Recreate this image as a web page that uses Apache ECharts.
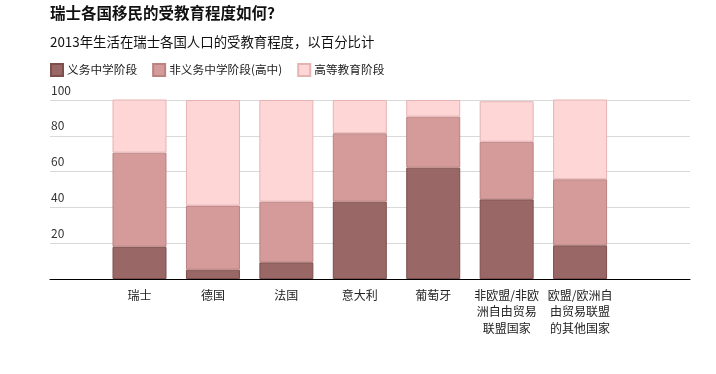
<!DOCTYPE html>
<html><head><meta charset="utf-8">
<script src="https://cdn.jsdelivr.net/npm/echarts@6/dist/echarts.min.js"></script>
<style>html,body{margin:0;padding:0;background:#fff}#c{width:716px;height:374px}</style>
</head><body><div id="c"></div>
<script>
const categories = ['瑞士', '德国', '法国', '意大利', '葡萄牙', '非欧盟/非欧\n洲自由贸易\n联盟国家', '欧盟/欧洲自\n由贸易联盟\n的其他国家'];
const compulsory = [18.0, 5.2, 9.3, 43.2, 62.2, 44.5, 18.8];
const upperSecondary = [52.6, 35.8, 33.9, 38.2, 28.5, 32.2, 36.9];
const tertiary = [29.8, 59.0, 56.8, 18.6, 9.3, 22.6, 44.7];
const seriesNames = ['义务中学阶段', '非义务中学阶段(高中)', '高等教育阶段'];
const yTicks = [0, 20, 40, 60, 80, 100];

const FONT = '"Noto Sans CJK SC", "Noto Sans", sans-serif';
const fills = ['#996866', '#d49b9a', '#fed6d6'];
const borders = ['#7c4e4c', '#b98382', '#e6b3b3'];
const values = [compulsory, upperSecondary, tertiary];

const chart = echarts.init(document.getElementById('c'), null, {renderer: 'canvas'});
chart.setOption({
  animation: false,
  textStyle: {fontFamily: FONT},
  title: [
    {text: '瑞士各国移民的受教育程度如何?', left: 50, top: 5, padding: 0,
     textStyle: {fontSize: 15.5, fontWeight: 'bold', color: '#111', fontFamily: FONT}},
    {text: '2013年生活在瑞士各国人口的受教育程度，以百分比计', left: 50, top: 35, padding: 0,
     textStyle: {fontSize: 13.4, fontWeight: 'normal', color: '#111', fontFamily: FONT}}
  ],
  legend: {
    left: 50, top: 63, padding: 0, itemWidth: 12, itemHeight: 12, itemGap: 15,
    icon: 'rect',
    textStyle: {fontSize: 11.7, color: '#222', fontFamily: FONT, padding: [0, 0, 0, -1]},
    data: seriesNames
  },
  grid: [
    {left: 50, right: 26, top: 100, bottom: 95},
    {left: 102.8, right: 99.2, top: 100, bottom: 95}
  ],
  xAxis: [
    {type: 'value', gridIndex: 0, min: 0, max: 1, show: true,
     axisLine: {show: true, lineStyle: {color: '#000', width: 1}},
     axisTick: {show: false}, axisLabel: {show: false}, splitLine: {show: false}},
    {type: 'category', gridIndex: 1, data: categories,
     axisLine: {show: false}, axisTick: {show: false},
     axisLabel: {fontSize: 12, color: '#222', lineHeight: 16.5, margin: 8, fontFamily: FONT, interval: 0}}
  ],
  yAxis: [
    {type: 'value', gridIndex: 0, min: yTicks[0], max: yTicks[yTicks.length - 1], interval: 20,
     axisLine: {show: false}, axisTick: {show: false},
     splitLine: {show: true, lineStyle: {color: '#d9d9d9', width: 1}},
     axisLabel: {inside: true, showMinLabel: false, margin: 1, verticalAlign: 'bottom',
                 padding: [0, 0, 4, 0], fontSize: 12, color: '#333', fontFamily: FONT}},
    {type: 'value', gridIndex: 1, min: 0, max: 100, show: false}
  ],
  series: seriesNames.map((name, i) => ({
    name: name, type: 'bar', stack: 'edu', xAxisIndex: 1, yAxisIndex: 1,
    barWidth: 54, data: values[i],
    itemStyle: {color: fills[i], borderColor: borders[i], borderWidth: 1}
  }))
});
</script></body></html>
